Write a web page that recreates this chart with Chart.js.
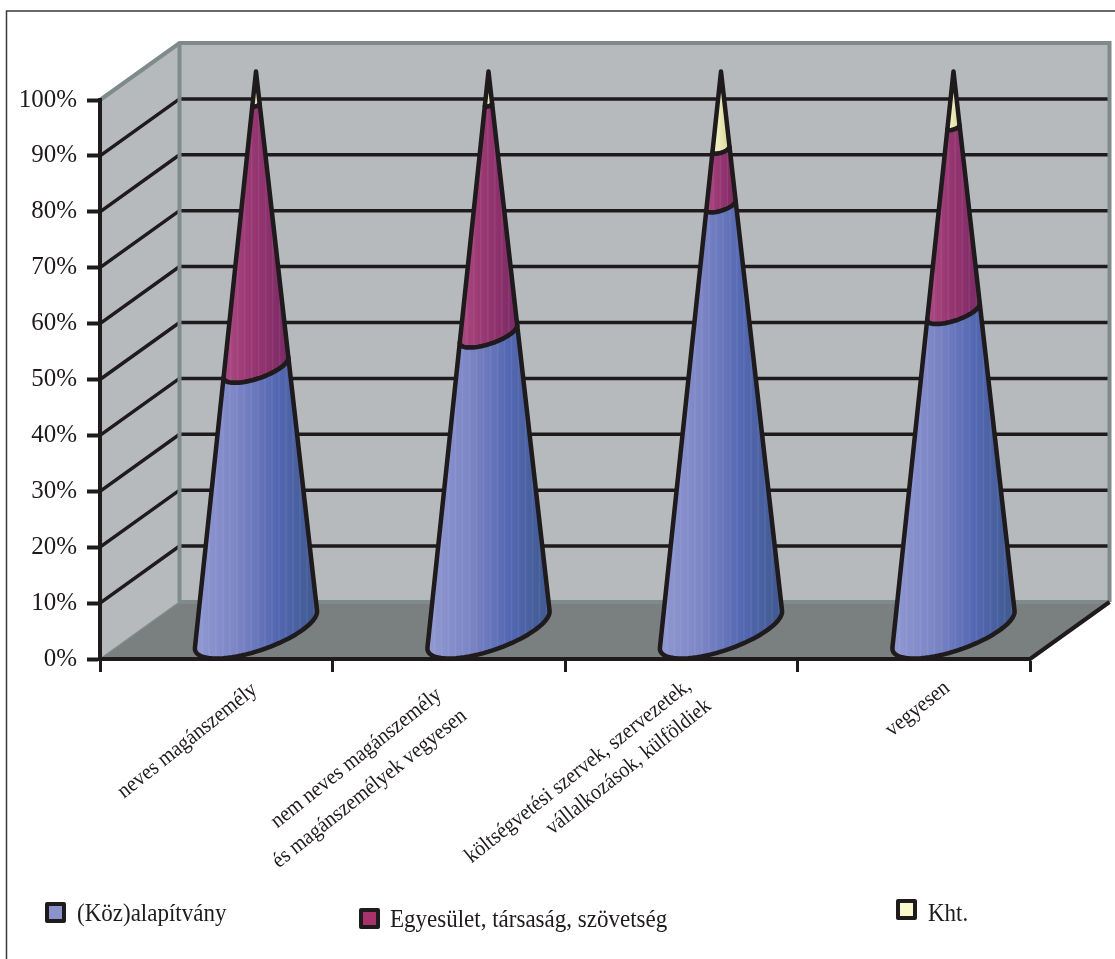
<!DOCTYPE html>
<html>
<head>
<meta charset="utf-8">
<script src="https://cdn.jsdelivr.net/npm/chart.js@4/dist/chart.umd.min.js"></script>
<style>
  html, body { margin: 0; padding: 0; background: #fff; }
  canvas { display: block; }
</style>
</head>
<body>
<canvas id="coneChart" width="1115" height="959"></canvas>
<script>
// Kúp diagram - adatok
const categories = [
    'neves magánszemély',
    ['nem neves magánszemély', 'és magánszemélyek vegyesen'],
    ['költségvetési szervek, szervezetek,', 'vállalkozások, külföldiek'],
    'vegyesen'
];
const alapitvany = [47, 53, 76, 57];
const egyesulet = [47, 41, 10, 33];
const kht = [6, 6, 14, 10];
const seriesNames = ['(Köz)alapítvány', 'Egyesület, társaság, szövetség', 'Kht.'];
const legendColors = ['#8a93cc', '#a8336b', '#fbf9cc'];

const FONT = '"Liberation Serif", serif';
const INK = '#1f1a1c';
const DEPTH_X = 79.5, DEPTH_Y = -57;   // 3D eltolás a hátsó falig

const coneStops = [
    ['#9199d2', '#7d86c6', '#5468b2', '#40598f'],
    ['#ab4a82', '#9c3a75', '#8d316c', '#772a64'],
    ['#f4f4cc', '#eeeebc', '#e2e2ac', '#d0d098']
];

// falak, padló, rácsvonalak
const wallsPlugin = {
    id: 'walls',
    beforeDraw(chart) {
        const { ctx, chartArea: a, scales: { y } } = chart;
        const L = a.left, R = a.right, T = a.top, B = a.bottom;
        const dx = DEPTH_X, dy = DEPTH_Y;
        ctx.save();

        ctx.strokeStyle = '#3a3a3a';
        ctx.lineWidth = 1.5;
        ctx.beginPath();
        ctx.moveTo(6.5, 959);
        ctx.lineTo(6.5, 11);
        ctx.lineTo(1115, 11);
        ctx.stroke();

        ctx.fillStyle = '#b7babc';
        ctx.fillRect(L + dx, T + dy, R - L, B - T);
        ctx.beginPath();
        ctx.moveTo(L, T); ctx.lineTo(L + dx, T + dy); ctx.lineTo(L + dx, B + dy); ctx.lineTo(L, B);
        ctx.closePath();
        ctx.fill();

        ctx.fillStyle = '#7a8080';
        ctx.beginPath();
        ctx.moveTo(L, B); ctx.lineTo(L + dx, B + dy); ctx.lineTo(R + dx, B + dy); ctx.lineTo(R, B);
        ctx.closePath();
        ctx.fill();

        // rácsvonalak
        ctx.strokeStyle = INK;
        ctx.lineWidth = 3.5;
        y.ticks.forEach(t => {
            if (t.value === 0 || t.value === 100) return;
            const py = y.getPixelForValue(t.value);
            ctx.beginPath();
            ctx.moveTo(L, py); ctx.lineTo(L + dx, py + dy); ctx.lineTo(R + dx, py + dy);
            ctx.stroke();
        });

        // fal keretek
        ctx.strokeStyle = '#7f8a8a';
        ctx.lineWidth = 4;
        ctx.beginPath();
        ctx.moveTo(L, T); ctx.lineTo(L + dx, T + dy); ctx.lineTo(R + dx, T + dy); ctx.lineTo(R + dx, B + dy);
        ctx.moveTo(L + dx, T + dy); ctx.lineTo(L + dx, B + dy);
        ctx.moveTo(L + dx, B + dy); ctx.lineTo(R + dx, B + dy);
        ctx.stroke();
        ctx.lineWidth = 1.5;
        ctx.beginPath();
        ctx.moveTo(L, B); ctx.lineTo(L + dx, B + dy);
        ctx.stroke();

        ctx.strokeStyle = INK;
        ctx.lineWidth = 4;
        ctx.beginPath();
        ctx.moveTo(R, B); ctx.lineTo(R + dx, B + dy);
        ctx.stroke();
        ctx.restore();
    }
};

// kúp szelet rajzolása a bar elem helyére
function drawConeSegment(chart, bar, stops) {
    const { ctx, scales: { y } } = chart;
    const y0 = y.getPixelForValue(0), y100 = y.getPixelForValue(100);
    const a = bar.width / 2;
    const vx = DEPTH_X / 2, vy = DEPTH_Y / 2;
    const cx = bar.x + vx;

    const h = y0 - y100;
    const beta = -h / vy;
    const alpha = -beta * vx / a;
    const phi = Math.atan2(beta, alpha);
    const off = Math.acos(1 / Math.hypot(alpha, beta));
    const th1 = phi + off;            // bal érintő
    const th2 = phi - off + 2 * Math.PI; // jobb érintő

    const pt = (py, th) => {
        const s = (py - y100) / h;
        return [cx + s * (a * Math.cos(th) + vx * Math.sin(th)),
                py + vy + s * vy * Math.sin(th)];
    };

    const n = 40;
    const outline = () => {
        ctx.beginPath();
        for (let i = 0; i <= n; i++) {
            const p = pt(bar.base, th1 + (th2 - th1) * i / n);
            i ? ctx.lineTo(p[0], p[1]) : ctx.moveTo(p[0], p[1]);
        }
        for (let i = n; i >= 0; i--) {
            const p = pt(bar.y, th1 + (th2 - th1) * i / n);
            ctx.lineTo(p[0], p[1]);
        }
        ctx.closePath();
    };

    const left = pt(bar.base, th1)[0], right = pt(bar.base, th2)[0];
    const g = ctx.createLinearGradient(left, 0, right, 0);
    stops.forEach((c, i) => g.addColorStop(i / (stops.length - 1), c));
    outline();
    ctx.fillStyle = g;
    ctx.fill();

    // finom függőleges csíkok
    ctx.save();
    ctx.clip();
    ctx.strokeStyle = 'rgba(255,255,255,0.07)';
    ctx.lineWidth = 1.5;
    for (let sx = left; sx < right; sx += 7) {
        ctx.beginPath();
        ctx.moveTo(sx, bar.y - 40);
        ctx.lineTo(sx, bar.base + 40);
        ctx.stroke();
    }
    ctx.restore();

    outline();
    ctx.strokeStyle = INK;
    ctx.lineWidth = 4.5;
    ctx.lineJoin = 'round';
    ctx.stroke();
}

const conePlugin = {
    id: 'cones',
    beforeDatasetDraw(chart, args) {
        args.meta.data.forEach(bar => drawConeSegment(chart, bar, coneStops[args.index]));
        return false;
    }
};

// döntött kategória feliratok: sorvég eltolása a kategória közepétől, alapvonal y
const labelEnds = [
    [[42, 692]],
    [[-6, 697], [19, 718]],
    [[11, 688], [31, 708]],
    [[37, 690]]
];
const axisLabelPlugin = {
    id: 'axisLabels',
    afterDraw(chart) {
        const { ctx, scales: { x } } = chart;
        categories.forEach((cat, i) => {
            [].concat(cat).forEach((line, j) => {
                const [ox, py] = labelEnds[i][j];
                ctx.save();
                ctx.translate(x.getPixelForTick(i) + ox, py);
                ctx.rotate(-38.5 * Math.PI / 180);
                ctx.scale(0.92, 1);
                ctx.font = '22px ' + FONT;
                ctx.fillStyle = INK;
                ctx.textAlign = 'right';
                ctx.textBaseline = 'alphabetic';
                ctx.fillText(line, 0, 0);
                ctx.restore();
            });
        });
    }
};

// jelmagyarázat
const legendSpots = [[47, 904, 77, 921], [361, 910, 390, 927], [898, 901, 928, 921]];
const legendPlugin = {
    id: 'cornerLegend',
    afterDraw(chart) {
        const { ctx } = chart;
        chart.data.datasets.forEach((ds, i) => {
            const [bx, by, tx, ty] = legendSpots[i];
            ctx.save();
            ctx.fillStyle = ds.backgroundColor;
            ctx.strokeStyle = INK;
            ctx.lineWidth = 4;
            ctx.fillRect(bx, by, 17, 17);
            ctx.strokeRect(bx, by, 17, 17);
            ctx.fillStyle = INK;
            ctx.font = '25px ' + FONT;
            ctx.textBaseline = 'alphabetic';
            ctx.translate(tx, ty);
            ctx.scale(0.92, 1);
            ctx.fillText(ds.label, 0, 0);
            ctx.restore();
        });
    }
};

new Chart(document.getElementById('coneChart'), {
    type: 'bar',
    data: {
        labels: categories,
        datasets: [
            { label: seriesNames[0], data: alapitvany, backgroundColor: legendColors[0] },
            { label: seriesNames[1], data: egyesulet, backgroundColor: legendColors[1] },
            { label: seriesNames[2], data: kht, backgroundColor: legendColors[2] }
        ]
    },
    options: {
        responsive: false,
        animation: false,
        categoryPercentage: 1,
        barPercentage: 0.4,
        layout: { padding: { top: 100, right: 85, left: 0, bottom: 0 } },
        plugins: { legend: { display: false }, tooltip: { enabled: false } },
        scales: {
            x: {
                stacked: true,
                afterFit(s) { s.height = 300; },
                grid: { drawOnChartArea: false, tickLength: 13, tickWidth: 3, tickColor: INK },
                border: { color: INK, width: 4 },
                ticks: { display: false }
            },
            y: {
                stacked: true,
                min: 0,
                max: 100,
                afterFit(s) { s.width = 100; },
                grid: { drawOnChartArea: false, tickLength: 13, tickWidth: 4, tickColor: INK },
                border: { color: INK, width: 4 },
                ticks: {
                    stepSize: 10, color: INK, padding: 10,
                    font: { family: FONT, size: 25 },
                    callback: v => v + '%'
                }
            }
        }
    },
    plugins: [wallsPlugin, conePlugin, axisLabelPlugin, legendPlugin]
});
</script>
</body>
</html>
